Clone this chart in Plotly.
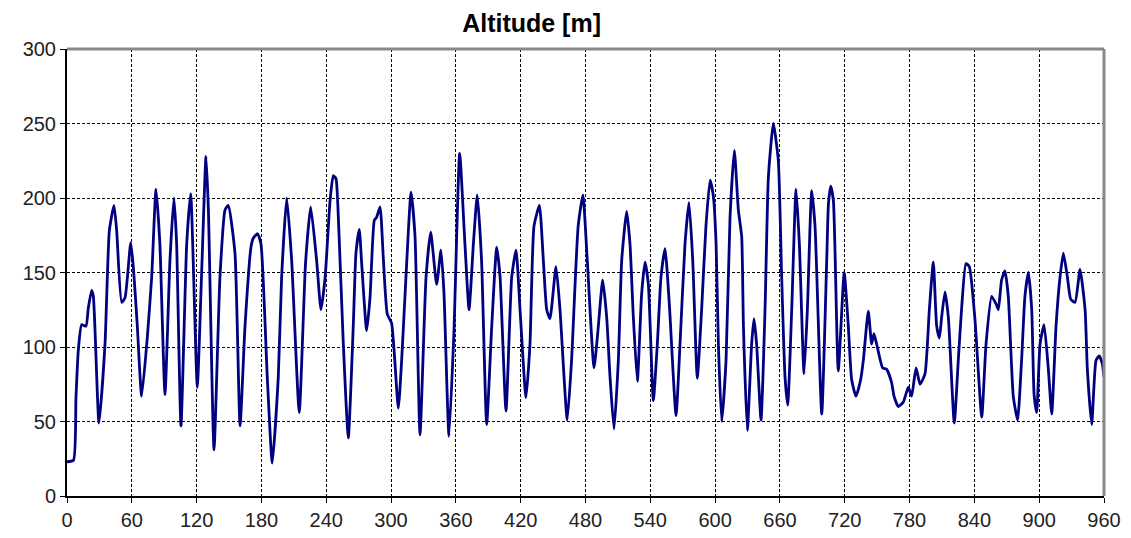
import plotly.graph_objects as go

time_s = [0, 6, 8.3, 10.5, 13.6, 17.6, 19.7, 22.8, 24.4, 29.6, 35.2, 39.2, 43.5, 46, 50.6, 53.7, 59, 61.4,
          65.1, 69.1, 74.4, 78.4, 82.4, 86, 90.7, 95.3, 99, 101.5, 105.5, 110.8, 114.5, 120.6, 124.5,
          128.7, 130.9, 136.1, 141.6, 146.3, 149.3, 155.5, 160.2, 164.8, 170.3, 172.4, 176.5, 179.6,
          185.4, 190, 195.6, 198.7, 203.4, 208, 215, 220.8, 225.6, 231.1, 235.1, 239, 243.5, 246.5,
          249, 251.2, 255.8, 260.4, 265, 267.5, 270.6, 272.8, 277.4, 280.5, 284.5, 286.6, 289.8,
          292.8, 296.5, 300.5, 306.7, 309.8, 313.8, 318.5, 322.2, 326.8, 332.4, 336.7, 342.2, 346.2,
          349, 353.6, 358.2, 363.5, 368.4, 372.2, 376.2, 379.8, 383.8, 388.5, 393.2, 397.8, 400.9,
          406.4, 411.7, 415.7, 419.4, 424.9, 428.6, 432.3, 437.3, 441, 444.1, 447.1, 452.7, 456.4,
          463.1, 467.1, 473.2, 477.6, 481.5, 487.9, 491.9, 495.9, 499.6, 502.7, 506.4, 510.4, 513.5,
          518.1, 521.2, 524.3, 528, 532, 535.1, 538.2, 542.8, 546.5, 549.9, 553.6, 557.6, 563.8,
          567.5, 572.1, 575.8, 579.3, 583.5, 587.5, 591.5, 595.3, 598.4, 600.9, 603, 606.1, 610.1,
          613.8, 617.8, 621.5, 624.6, 626.2, 629.8, 633.8, 636, 638.4, 642.5, 646.2, 649.3, 653.9,
          658.5, 661.6, 664.7, 667.2, 670.9, 674.9, 678, 682.3, 685.4, 689.4, 692.5, 698.7, 703.3,
          704.9, 707, 709.5, 714, 719.5, 723.3, 726.4, 730.4, 734.7, 737.2, 741.8, 744.9, 747,
          749.5, 755.1, 758.8, 763.4, 765.6, 769.6, 774.2, 778.9, 781.9, 786, 789.7, 794.3, 798.3,
          802, 805.1, 807.6, 809.7, 812.8, 815.9, 821.4, 825.1, 828.2, 832.2, 835.3, 840.6, 846.8,
          850.8, 856, 860.6, 862.2, 865.2, 868.3, 871.4, 876, 880, 883.7, 886.8, 890, 893.1, 895.3,
          897.7, 900.8, 904.5, 908.5, 911.6, 915.6, 919.3, 922.4, 926.1, 929.2, 933.2, 937.8, 942.5,
          944.6, 948.6, 952.6, 955.6, 958.4, 960]

altitude_m = [23, 24, 66, 98, 115, 114, 126, 138, 134, 49, 102, 178, 195, 178, 130, 133, 170, 154,
              114, 67, 107, 147, 206, 169, 68, 158, 200, 169, 47, 169, 203, 73, 147,
              228, 192, 31, 147, 192, 195, 163, 47, 114, 167, 173, 176, 169,
              80, 22, 80, 147, 200, 158, 56, 156, 194, 158, 125, 147, 198, 215,
              213, 187, 102, 39, 114, 163, 179, 156, 111, 133, 185, 187, 194,
              160, 122, 116, 59, 91, 147, 204, 174, 41, 147, 177, 142, 165,
              136, 40, 110, 230, 169, 125, 169, 202, 158, 48, 114, 167, 147,
              57, 147, 165, 125, 66, 102, 181, 195, 158, 125, 119, 154, 125,
              51, 91, 181, 202, 160, 86, 114, 145, 120, 80, 45, 91, 158,
              191, 169, 120, 77, 136, 157, 142, 64, 102, 147, 166, 129, 54,
              102, 169, 197, 158, 79, 125, 181, 212, 201, 169, 102, 50, 91,
              187, 232, 192, 174, 114, 44, 102, 119, 102, 51, 125, 214, 250,
              225, 147, 80, 61, 125, 206, 169, 82, 125, 205, 181, 55, 158,
              196, 208, 198, 84, 150, 114, 78, 67, 78, 91, 124, 102, 109,
              102, 86, 85, 76, 67, 60, 63, 73, 67, 86, 75, 82, 125,
              157, 114, 106, 120, 137, 120, 49, 91, 126, 156, 154, 118, 53,
              102, 134, 128, 125, 145, 151, 134, 67, 51, 91, 134, 150, 125, 68,
              56, 102, 115, 85, 55, 114, 147, 163, 147, 132, 130, 152, 125,
              85, 48, 91, 94, 89, 80]

x_ticks = list(range(0, 961, 60))
y_ticks = list(range(0, 301, 50))

fig = go.Figure()
fig.add_trace(go.Scatter(
    x=time_s, y=altitude_m, mode="lines",
    line=dict(color="#000080", width=2.8, shape="spline", smoothing=0.5),
    showlegend=False, hoverinfo="x+y",
))

axis_common = dict(
    showgrid=True, gridcolor="#000000", gridwidth=1, griddash="3px,2px",
    showline=True, linecolor="#000000", linewidth=2,
    ticks="outside", ticklen=5, tickcolor="#000000", tickwidth=1,
    zeroline=False, automargin=False,
    tickfont=dict(family="Liberation Sans, Arial", size=20, color="#222222"),
)

fig.update_layout(
    width=1131, height=538,
    margin=dict(l=67, r=27, t=49, b=42),
    paper_bgcolor="white", plot_bgcolor="white",
    title=dict(text="<b>Altitude [m]</b>", x=0.470, xanchor="center", y=0.957, yanchor="middle",
               font=dict(family="Liberation Sans, Arial", size=25, color="#000000")),
    xaxis=dict(range=[0, 960], tickvals=x_ticks, **axis_common),
    yaxis=dict(range=[0, 300], tickvals=y_ticks, **axis_common),
)

# grey top and right frame of the plot area
fig.add_shape(type="line", xref="paper", yref="paper", x0=0, x1=1, y0=1, y1=1,
              line=dict(color="#888888", width=3))
fig.add_shape(type="line", xref="paper", yref="paper", x0=1, x1=1, y0=0, y1=1,
              line=dict(color="#888888", width=3))

fig.write_html("out.html")
